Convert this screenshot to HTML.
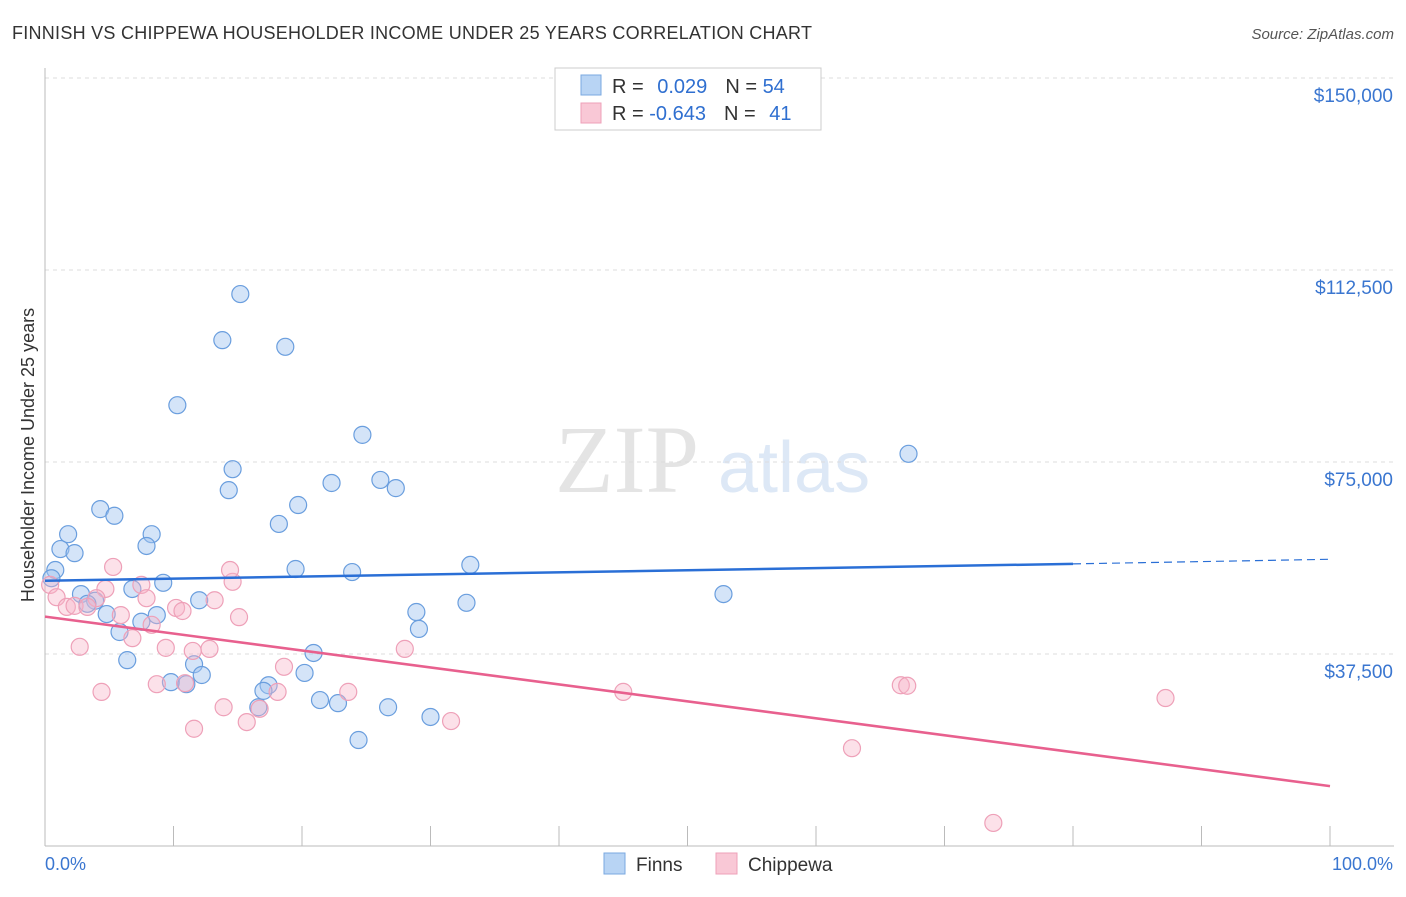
<!DOCTYPE html>
<html><head><meta charset="utf-8"><style>
body{margin:0;background:#fff;font-family:"Liberation Sans",sans-serif;}
</style></head><body>
<svg width="1406" height="892" xmlns="http://www.w3.org/2000/svg" font-family="Liberation Sans, sans-serif">
<text x="12" y="39" font-size="18" fill="#333" textLength="800">FINNISH VS CHIPPEWA HOUSEHOLDER INCOME UNDER 25 YEARS CORRELATION CHART</text>
<text x="1394" y="39" font-size="15" fill="#555" text-anchor="end" font-style="italic">Source: ZipAtlas.com</text>
<text x="555" y="492" font-size="96" fill="#e4e4e4" font-family="Liberation Serif, serif">ZIP</text>
<text x="718" y="492" font-size="72" fill="#dde8f6">atlas</text>
<g id="grid"></g>
<g id="axes"></g>
<g id="marks"></g>
<g>
<rect x="555" y="68" width="266" height="62" fill="#fff" stroke="#ccc"/>
<rect x="581" y="75" width="20" height="20" fill="#b8d4f4" stroke="#7aa8e0"/>
<text x="612" y="93" font-size="20" fill="#333">R = <tspan fill="#2f6fd0" dx="8">0.029</tspan><tspan dx="18" fill="#333">N = </tspan><tspan fill="#2f6fd0">54</tspan></text>
<rect x="581" y="103" width="20" height="20" fill="#f9c8d6" stroke="#eea0b8"/>
<text x="612" y="120" font-size="20" fill="#333">R = <tspan fill="#2f6fd0">-0.643</tspan><tspan dx="18" fill="#333">N = </tspan><tspan fill="#2f6fd0" dx="8">41</tspan></text>
</g>
<g>
<rect x="604" y="853" width="21" height="21" fill="#b8d4f4" stroke="#7aa8e0"/>
<text x="636" y="871" font-size="19" fill="#333">Finns</text>
<rect x="716" y="853" width="21" height="21" fill="#f9c8d6" stroke="#eea0b8"/>
<text x="748" y="871" font-size="19" fill="#333">Chippewa</text>
</g>
<text transform="translate(34,455) rotate(-90)" font-size="18" fill="#333" text-anchor="middle">Householder Income Under 25 years</text>
</svg>
<script>
const yTicks=[37500,75000,112500,150000];
const yTickLabels=["$37,500","$75,000","$112,500","$150,000"];
const xTickLabels=["0.0%","100.0%"];
const finnsX=[15.2,13.8,18.7,10.3,24.7,67.2,14.6,14.3,26.1,27.3,22.3,19.7,4.3,5.4,18.2,1.8,8.3,1.2,2.3,7.9,33.1,23.9,19.5,0.8,0.5,9.2,6.8,2.8,3.9,3.3,12.0,32.8,52.8,28.9,4.8,8.7,7.5,5.8,29.1,20.9,6.4,11.6,12.2,20.2,9.8,11.0,17.4,17.0,21.4,22.8,16.6,26.7,30.0,24.4];
const finnsY=[107800,98800,97500,86100,80300,76600,73600,69500,71500,69900,70900,66600,65800,64500,62900,60900,60900,58000,57200,58600,54900,53500,54100,53900,52300,51400,50200,49200,47900,47300,48000,47500,49200,45700,45300,45100,43800,41800,42400,37700,36300,35500,33400,33800,32000,31600,31400,30300,28500,27900,27100,27100,25200,20700];
const chipX=[0.4,0.9,5.3,7.5,4.7,4.0,1.7,2.3,3.3,7.9,10.2,10.7,14.6,14.4,13.2,5.9,15.1,8.3,6.8,2.7,9.4,11.5,12.8,28.0,18.6,4.4,8.7,10.9,18.1,23.6,45.0,66.6,67.1,87.2,13.9,16.7,15.7,31.6,11.6,62.8,73.8];
const chipY=[51000,48600,54500,51000,50200,48400,46700,46900,46700,48400,46500,45900,51600,53900,48000,45100,44700,43200,40600,38900,38700,38100,38500,38500,35000,30100,31600,31800,30100,30100,30100,31400,31300,28900,27100,26800,24200,24400,22900,19100,4500];
const finnsTrend=[51800,55100,56000];
const chipTrend=[44800,11700];
const NS="http://www.w3.org/2000/svg";
const X=v=>45+v*12.85, Y=v=>846-v/37500*192;
function mk(tag,attrs,parent){const e=document.createElementNS(NS,tag);for(const k in attrs)e.setAttribute(k,attrs[k]);document.getElementById(parent).appendChild(e);return e;}
yTicks.forEach((t,i)=>{
 const g=mk('line',{x1:45,x2:1394,y1:Y(t),y2:Y(t),stroke:'#ddd','stroke-dasharray':'4,4'},'grid');
 
 
 const l=mk('text',{x:1393,y:Y(t)+24,'font-size':19,fill:'#3a76d0','text-anchor':'end'},'axes');
 l.textContent=yTickLabels[i];
 
 
});
const ax=mk('line',{x1:45,x2:1394,y1:846,y2:846,stroke:'#bbb'},'axes');


const ay=mk('line',{x1:45,x2:45,y1:68,y2:846,stroke:'#bbb'},'axes');


for(let i=0;i<=10;i++){const t=mk('line',{x1:X(i*10),x2:X(i*10),y1:826,y2:846,stroke:'#bbb'},'axes');
 
 }
[[0,'start',45],[100,'end',1393]].forEach((d,i)=>{const t=mk('text',{x:d[2],y:870,'font-size':18,fill:'#3a76d0','text-anchor':d[1]},'axes');t.textContent=xTickLabels[i];
 
 });
finnsX.forEach((x,i)=>{const c=mk('circle',{cx:X(x),cy:Y(finnsY[i]),r:8.5,fill:'rgba(160,196,240,0.45)',stroke:'#6a9ede','stroke-width':1.2},'marks');
 
 });
chipX.forEach((x,i)=>{const c=mk('circle',{cx:X(x),cy:Y(chipY[i]),r:8.5,fill:'rgba(248,180,200,0.4)',stroke:'#eea0b8','stroke-width':1.2},'marks');
 
 });
const bl=mk('line',{x1:X(0),y1:Y(finnsTrend[0]),x2:X(80),y2:Y(finnsTrend[1]),stroke:'#2a6fd6','stroke-width':2.5},'marks');


const bd=mk('line',{x1:X(80),y1:Y(finnsTrend[1]),x2:X(100),y2:Y(finnsTrend[2]),stroke:'#2a6fd6','stroke-width':1.2,'stroke-dasharray':'8,5'},'marks');


const pl=mk('line',{x1:X(0),y1:Y(chipTrend[0]),x2:X(100),y2:Y(chipTrend[1]),stroke:'#e8608e','stroke-width':2.5},'marks');


</script>
</body></html>
